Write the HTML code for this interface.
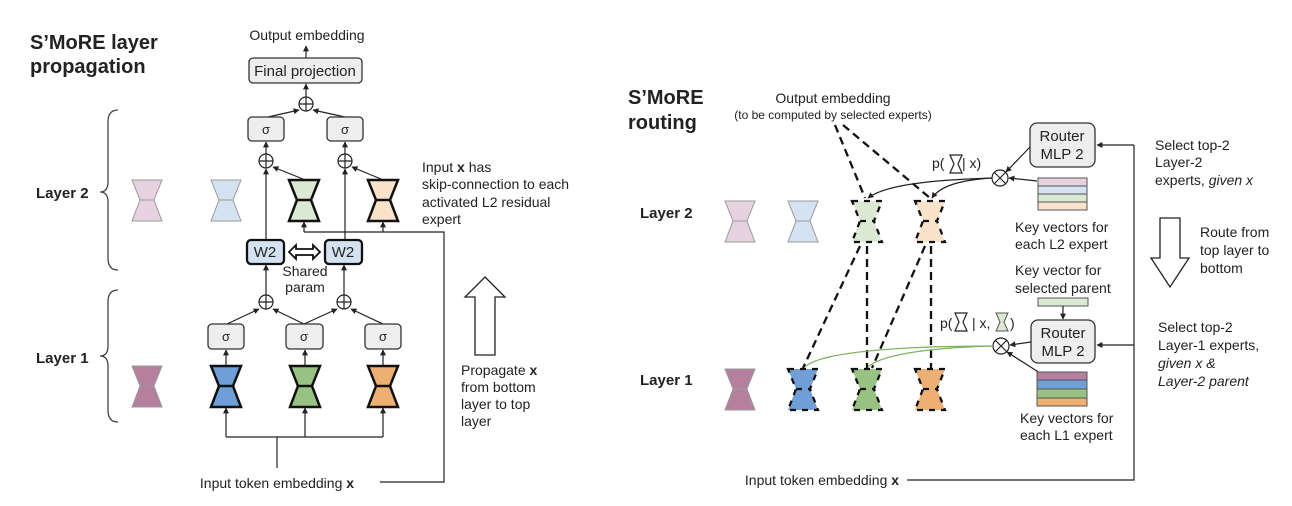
<!DOCTYPE html>
<html><head><meta charset="utf-8"><style>
html,body{margin:0;padding:0;background:#fff}
svg{display:block}
text{font-family:"Liberation Sans",Arial,sans-serif;fill:#222}
</style></head><body>
<svg width="1292" height="506" viewBox="0 0 1292 506" xmlns="http://www.w3.org/2000/svg">
<defs>
<marker id="a" viewBox="0 0 10 10" refX="9" refY="5" markerWidth="5" markerHeight="5" orient="auto"><path d="M0,0L10,5L0,10z" fill="#222"/></marker>
<g id="hg"><polygon points="0,0 30,0 22,20 30,41 0,41 8,20"/><line x1="8" y1="20" x2="22" y2="20"/></g>
</defs>

<!-- LEFT PANEL -->
<text x="30" y="49" font-size="20" font-weight="bold">S’MoRE layer</text>
<text x="30" y="73" font-size="20" font-weight="bold">propagation</text>
<text x="36" y="198" font-size="15" font-weight="bold">Layer 2</text>
<text x="36" y="363" font-size="15" font-weight="bold">Layer 1</text>
<path d="M118,110 Q108,110 108,122 L108,182 Q108,192 100,192 Q108,192 108,202 L108,258 Q108,270 118,270" fill="none" stroke="#444" stroke-width="1.3"/>
<path d="M118,290 Q108,290 108,302 L108,346 Q108,356 100,356 Q108,356 108,366 L108,410 Q108,422 118,422" fill="none" stroke="#444" stroke-width="1.3"/>

<text x="307" y="40" font-size="14" text-anchor="middle">Output embedding</text>
<line x1="306" y1="58" x2="306" y2="46" stroke="#222" stroke-width="1.2" marker-end="url(#a)"/>
<rect x="249" y="58" width="113" height="25" rx="4" fill="#eee" stroke="#333" stroke-width="1.3"/>
<text x="305" y="76" font-size="15" text-anchor="middle">Final projection</text>
<line x1="306" y1="97" x2="306" y2="84" stroke="#222" stroke-width="1.2" marker-end="url(#a)"/>
<circle cx="306" cy="104" r="7" fill="#fff" stroke="#222" stroke-width="1.2"/><path d="M299,104h14M306,97v14" stroke="#222" stroke-width="1.2"/>
<line x1="268" y1="117" x2="299" y2="110" stroke="#222" stroke-width="1.2" marker-end="url(#a)"/>
<line x1="345" y1="117" x2="313" y2="110" stroke="#222" stroke-width="1.2" marker-end="url(#a)"/>
<rect x="248" y="117" width="36" height="24" rx="4" fill="#eee" stroke="#333" stroke-width="1.3"/><text x="266" y="134" font-size="13" text-anchor="middle">σ</text>
<rect x="327" y="117" width="36" height="24" rx="4" fill="#eee" stroke="#333" stroke-width="1.3"/><text x="345" y="134" font-size="13" text-anchor="middle">σ</text>
<line x1="266" y1="154" x2="266" y2="142" stroke="#222" stroke-width="1.2" marker-end="url(#a)"/>
<line x1="345" y1="154" x2="345" y2="142" stroke="#222" stroke-width="1.2" marker-end="url(#a)"/>
<g fill="#fff" stroke="#222" stroke-width="1.2">
<circle cx="266" cy="161" r="7"/><path d="M259,161h14M266,154v14"/>
<circle cx="345" cy="161" r="7"/><path d="M338,161h14M345,154v14"/></g>
<line x1="303" y1="179" x2="273" y2="167" stroke="#222" stroke-width="1.2" marker-end="url(#a)"/>
<line x1="381" y1="179" x2="352" y2="167" stroke="#222" stroke-width="1.2" marker-end="url(#a)"/>
<use href="#hg" x="132" y="180" fill="#e6d3df" stroke="#999" stroke-width="1"/>
<use href="#hg" x="211" y="180" fill="#d4e2f1" stroke="#999" stroke-width="1"/>
<use href="#hg" x="289" y="180" fill="#dbe8d4" stroke="#111" stroke-width="2.5"/>
<use href="#hg" x="368" y="180" fill="#fbe3cb" stroke="#111" stroke-width="2.5"/>
<path d="M304,232 H444 V482 H380" fill="none" stroke="#222" stroke-width="1.2"/>
<line x1="304" y1="232" x2="304" y2="222" stroke="#222" stroke-width="1.2" marker-end="url(#a)"/>
<line x1="383" y1="232" x2="383" y2="222" stroke="#222" stroke-width="1.2" marker-end="url(#a)"/>
<line x1="266" y1="240" x2="266" y2="169" stroke="#222" stroke-width="1.2" marker-end="url(#a)"/>
<line x1="345" y1="240" x2="345" y2="169" stroke="#222" stroke-width="1.2" marker-end="url(#a)"/>
<text x="422" y="172" font-size="14">Input <tspan font-weight="bold">x</tspan> has</text>
<text x="422" y="189" font-size="14">skip-connection to each</text>
<text x="422" y="207" font-size="14">activated L2 residual</text>
<text x="422" y="224" font-size="14">expert</text>
<rect x="247" y="240" width="37" height="24" rx="4" fill="#d4e2f1" stroke="#111" stroke-width="2.3"/><text x="265" y="257" font-size="15" text-anchor="middle">W2</text>
<rect x="325" y="240" width="37" height="24" rx="4" fill="#d4e2f1" stroke="#111" stroke-width="2.3"/><text x="343" y="257" font-size="15" text-anchor="middle">W2</text>
<path d="M289,252 L296,245 V249 H313 V245 L320,252 L313,259 V255 H296 V259 Z" fill="#fff" stroke="#111" stroke-width="1.8"/>
<text x="305" y="276" font-size="14" text-anchor="middle">Shared</text>
<text x="305" y="292" font-size="14" text-anchor="middle">param</text>
<line x1="266" y1="295" x2="266" y2="265" stroke="#222" stroke-width="1.2" marker-end="url(#a)"/>
<line x1="344" y1="295" x2="344" y2="265" stroke="#222" stroke-width="1.2" marker-end="url(#a)"/>
<g fill="#fff" stroke="#222" stroke-width="1.2">
<circle cx="266" cy="302" r="7"/><path d="M259,302h14M266,295v14"/>
<circle cx="344" cy="302" r="7"/><path d="M337,302h14M344,295v14"/></g>
<g stroke="#222" stroke-width="1.2">
<line x1="227" y1="324" x2="259" y2="309" marker-end="url(#a)"/>
<line x1="304" y1="324" x2="273" y2="309" marker-end="url(#a)"/>
<line x1="304" y1="324" x2="337" y2="309" marker-end="url(#a)"/>
<line x1="383" y1="324" x2="351" y2="309" marker-end="url(#a)"/>
</g>
<g fill="#eee" stroke="#333" stroke-width="1.3">
<rect x="208" y="324" width="36" height="25" rx="4"/><rect x="286" y="324" width="37" height="25" rx="4"/><rect x="365" y="324" width="36" height="25" rx="4"/></g>
<text x="226" y="341" font-size="13" text-anchor="middle">σ</text><text x="304" y="341" font-size="13" text-anchor="middle">σ</text><text x="383" y="341" font-size="13" text-anchor="middle">σ</text>
<g stroke="#222" stroke-width="1.2">
<line x1="226" y1="366" x2="226" y2="350" marker-end="url(#a)"/>
<line x1="305" y1="366" x2="305" y2="350" marker-end="url(#a)"/>
<line x1="383" y1="366" x2="383" y2="350" marker-end="url(#a)"/>
</g>
<use href="#hg" x="132" y="366" fill="#b5809e" stroke="#999" stroke-width="1"/>
<use href="#hg" x="211" y="366" fill="#6f9fd6" stroke="#111" stroke-width="2.5"/>
<use href="#hg" x="290" y="366" fill="#98c282" stroke="#111" stroke-width="2.5"/>
<use href="#hg" x="368" y="366" fill="#eeb072" stroke="#111" stroke-width="2.5"/>
<path d="M226,437 H383 M277,437 V468" fill="none" stroke="#222" stroke-width="1.2"/>
<g stroke="#222" stroke-width="1.2">
<line x1="226" y1="437" x2="226" y2="408" marker-end="url(#a)"/>
<line x1="305" y1="437" x2="305" y2="408" marker-end="url(#a)"/>
<line x1="383" y1="437" x2="383" y2="408" marker-end="url(#a)"/>
</g>
<text x="277" y="488" font-size="14" text-anchor="middle">Input token embedding <tspan font-weight="bold">x</tspan></text>
<path d="M485,277 L505,297 H495 V355 H475 V297 H465 Z" fill="#fff" stroke="#222" stroke-width="1.3"/>
<text x="461" y="375" font-size="14">Propagate <tspan font-weight="bold">x</tspan></text>
<text x="461" y="392" font-size="14">from bottom</text>
<text x="461" y="409" font-size="14">layer to top</text>
<text x="461" y="426" font-size="14">layer</text>

<!-- RIGHT PANEL -->
<text x="628" y="104" font-size="20" font-weight="bold">S’MoRE</text>
<text x="628" y="129" font-size="20" font-weight="bold">routing</text>
<text x="640" y="218" font-size="15" font-weight="bold">Layer 2</text>
<text x="640" y="385" font-size="15" font-weight="bold">Layer 1</text>
<text x="833" y="103" font-size="14" text-anchor="middle">Output embedding</text>
<text x="833" y="119" font-size="12" text-anchor="middle">(to be computed by selected experts)</text>

<g stroke="#111" stroke-width="2.3" stroke-dasharray="8,5" fill="none">
<line x1="835" y1="125" x2="865" y2="198"/>
<line x1="843" y1="125" x2="930" y2="198"/>
<line x1="860" y1="246" x2="803" y2="368"/>
<line x1="867" y1="246" x2="867" y2="368"/>
<line x1="925" y1="246" x2="872" y2="368"/>
<line x1="931" y1="246" x2="931" y2="368"/>
</g>
<use href="#hg" x="725" y="201" fill="#e6d3df" stroke="#999" stroke-width="1"/>
<use href="#hg" x="788" y="201" fill="#d4e2f1" stroke="#999" stroke-width="1"/>
<use href="#hg" x="852" y="201" fill="#dbe8d4" stroke="#111" stroke-width="2.3" stroke-dasharray="6,6"/>
<use href="#hg" x="915" y="201" fill="#fbe3cb" stroke="#111" stroke-width="2.3" stroke-dasharray="6,6"/>
<use href="#hg" x="725" y="369" fill="#b5809e" stroke="#999" stroke-width="1"/>
<use href="#hg" x="788" y="369" fill="#6f9fd6" stroke="#111" stroke-width="2.3" stroke-dasharray="6,6"/>
<use href="#hg" x="852" y="369" fill="#98c282" stroke="#111" stroke-width="2.3" stroke-dasharray="6,6"/>
<use href="#hg" x="915" y="369" fill="#eeb072" stroke="#111" stroke-width="2.3" stroke-dasharray="6,6"/>

<rect x="1030" y="123" width="65" height="44" rx="7" fill="#eee" stroke="#333" stroke-width="1.3"/>
<text x="1062" y="141" font-size="15" text-anchor="middle">Router</text>
<text x="1062" y="159" font-size="15" text-anchor="middle">MLP 2</text>
<path d="M1134,145 V480 H907" fill="none" stroke="#222" stroke-width="1.2"/>
<line x1="1134" y1="145" x2="1097" y2="145" stroke="#222" stroke-width="1.2" marker-end="url(#a)"/>
<line x1="1134" y1="345" x2="1097" y2="345" stroke="#222" stroke-width="1.2" marker-end="url(#a)"/>
<line x1="1030" y1="147" x2="1006" y2="172" stroke="#222" stroke-width="1.2" marker-end="url(#a)"/>
<line x1="1037" y1="181" x2="1009" y2="178" stroke="#222" stroke-width="1.2" marker-end="url(#a)"/>
<circle cx="1000" cy="178" r="8" fill="#fff" stroke="#222" stroke-width="1.2"/><path d="M994.5,172.5l11,11M1005.5,172.5l-11,11" stroke="#222" stroke-width="1.2"/>
<text x="932" y="168" font-size="14">p(</text>
<polygon points="950,155 962,155 958,164 962,173 950,173 954,164" fill="#fff" stroke="#222" stroke-width="1.2"/>
<text x="962" y="168" font-size="14">| x)</text>
<path d="M992,178 C930,180 885,185 868,198" fill="none" stroke="#222" stroke-width="1.2" marker-end="url(#a)"/>
<path d="M992,178 C960,180 940,186 932,198" fill="none" stroke="#222" stroke-width="1.2" marker-end="url(#a)"/>
<g stroke="#555" stroke-width="1">
<rect x="1038" y="178" width="49" height="8" fill="#e6d3df"/><rect x="1038" y="186" width="49" height="8" fill="#d4e2f1"/><rect x="1038" y="194" width="49" height="8" fill="#dbe8d4"/><rect x="1038" y="202" width="49" height="8" fill="#fbe3cb"/>
</g>
<text x="1015" y="232" font-size="14">Key vectors for</text>
<text x="1015" y="249" font-size="14">each L2 expert</text>
<text x="1015" y="275" font-size="14">Key vector for</text>
<text x="1015" y="293" font-size="14">selected parent</text>
<rect x="1038" y="298" width="50" height="8" fill="#dbe8d4" stroke="#555" stroke-width="1"/>
<line x1="1063" y1="306" x2="1063" y2="319" stroke="#222" stroke-width="1.2" marker-end="url(#a)"/>
<rect x="1031" y="320" width="64" height="43" rx="7" fill="#eee" stroke="#333" stroke-width="1.3"/>
<text x="1063" y="338" font-size="15" text-anchor="middle">Router</text>
<text x="1063" y="356" font-size="15" text-anchor="middle">MLP 2</text>
<line x1="1031" y1="342" x2="1010" y2="345" stroke="#222" stroke-width="1.2" marker-end="url(#a)"/>
<line x1="1040" y1="373" x2="1007" y2="352" stroke="#222" stroke-width="1.2" marker-end="url(#a)"/>
<circle cx="1001" cy="346" r="8" fill="#fff" stroke="#222" stroke-width="1.2"/><path d="M995.5,340.5l11,11M1006.5,340.5l-11,11" stroke="#222" stroke-width="1.2"/>
<text x="940" y="328" font-size="14">p(</text>
<polygon points="955,313 967,313 963,322 967,331 955,331 959,322" fill="#fff" stroke="#222" stroke-width="1.2"/>
<text x="972" y="328" font-size="14">| x,</text>
<polygon points="996,313 1008,313 1004,322 1008,331 996,331 1000,322" fill="#dbe8d4" stroke="#555" stroke-width="1"/>
<text x="1010" y="328" font-size="14">)</text>
<path d="M993,346 C900,346 820,352 805,367" fill="none" stroke="#7bb35f" stroke-width="1.2"/>
<path d="M993,346 C920,348 880,356 868,367" fill="none" stroke="#7bb35f" stroke-width="1.2"/>
<g stroke="#555" stroke-width="1">
<rect x="1037" y="372" width="50" height="8" fill="#b5809e"/><rect x="1037" y="380" width="50" height="9" fill="#6f9fd6"/><rect x="1037" y="389" width="50" height="9" fill="#98c282"/><rect x="1037" y="398" width="50" height="8" fill="#eeb072"/>
</g>
<text x="1020" y="423" font-size="14">Key vectors for</text>
<text x="1020" y="440" font-size="14">each L1 expert</text>
<text x="822" y="485" font-size="14" text-anchor="middle">Input token embedding <tspan font-weight="bold">x</tspan></text>

<text x="1155" y="150" font-size="14">Select top-2</text>
<text x="1155" y="167" font-size="14">Layer-2</text>
<text x="1155" y="185" font-size="14">experts, <tspan font-style="italic">given x</tspan></text>
<path d="M1160,218 H1180 V258 H1189 L1170,287 L1151,258 H1160 Z" fill="#fff" stroke="#222" stroke-width="1.3"/>
<text x="1200" y="237" font-size="14">Route from</text>
<text x="1200" y="255" font-size="14">top layer to</text>
<text x="1200" y="273" font-size="14">bottom</text>
<text x="1158" y="332" font-size="14">Select top-2</text>
<text x="1158" y="350" font-size="14">Layer-1 experts,</text>
<text x="1158" y="368" font-size="14" font-style="italic">given x &amp;</text>
<text x="1158" y="386" font-size="14" font-style="italic">Layer-2 parent</text>
</svg>
</body></html>
